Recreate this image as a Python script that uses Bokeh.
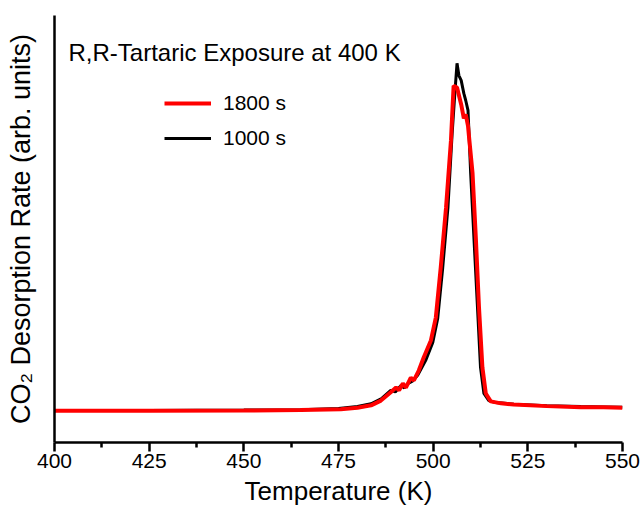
from bokeh.plotting import figure
from bokeh.models import Legend, LegendItem, FixedTicker, Label
from bokeh.embed import file_html
from bokeh.resources import INLINE

# ---- data ----
temp_1800 = [400, 425, 450, 465, 475.6, 480, 483.6, 486.2, 488.8, 490.2, 491.0, 492.0,
             492.8, 494.1, 494.9, 496.2, 497.5, 499.4, 500.7, 502.0, 503.4, 504.7,
             505.4, 506.3, 507.4, 508.1, 508.6, 509.2, 509.5, 510.4, 511.3, 512.1,
             513.0, 513.9, 515.2, 517.9, 521.3, 530, 539.0, 545, 550]
rate_1800 = [0.000, 0.000, 0.001, 0.002, 0.004, 0.008, 0.014, 0.026, 0.047, 0.059, 0.052, 0.069,
             0.059, 0.084, 0.077, 0.102, 0.135, 0.178, 0.236, 0.363, 0.514, 0.684,
             0.822, 0.818, 0.775, 0.740, 0.750, 0.721, 0.690, 0.601, 0.431, 0.262,
             0.110, 0.044, 0.024, 0.019, 0.016, 0.012, 0.009, 0.009, 0.008]

temp_1000 = [400, 425, 450, 465, 475, 480, 483.6, 486.5, 488.8, 490.0, 491.5, 492.4,
             493.3, 494.5, 495.9, 498.0, 499.9, 501.2, 502.5, 503.9, 505.0, 505.7,
             506.3, 506.8, 507.4, 508.1, 508.6, 509.2, 509.4, 509.9, 510.8, 511.7,
             512.5, 513.4, 514.7, 516.5, 521.3, 530, 539.0, 545, 550]
rate_1000 = [0.001, 0.001, 0.002, 0.003, 0.006, 0.011, 0.018, 0.032, 0.052, 0.048, 0.064, 0.058,
             0.069, 0.075, 0.090, 0.127, 0.173, 0.234, 0.360, 0.514, 0.700, 0.800,
             0.879, 0.848, 0.836, 0.803, 0.785, 0.760, 0.716, 0.601, 0.431, 0.262,
             0.110, 0.044, 0.026, 0.021, 0.017, 0.013, 0.011, 0.010, 0.009]

x_ticks = [400, 425, 450, 475, 500, 525, 550]
x_minor_ticks = [412.5, 437.5, 462.5, 487.5, 512.5, 537.5]
series_labels = ["1800 s", "1000 s"]
title_text = "R,R-Tartaric Exposure at 400 K"

FONT = "Liberation Sans"

p = figure(width=640, height=512, x_range=(400, 550), y_range=(-0.08, 1.0),
           output_backend="svg", toolbar_location=None,
           min_border_left=54, min_border_right=18, min_border_top=15, min_border_bottom=70)
p.outline_line_color = None
p.grid.visible = False
p.background_fill_color = "white"
p.border_fill_color = "white"

r_blk = p.line(temp_1000, rate_1000, line_color="black", line_width=3)
r_red = p.line(temp_1800, rate_1800, line_color="#ff0000", line_width=4)

# x axis
xa = p.xaxis[0]
xa.ticker = FixedTicker(ticks=x_ticks, minor_ticks=x_minor_ticks)
xa.axis_line_width = 2.5
xa.axis_line_color = "black"
xa.major_tick_line_width = 2.5
xa.major_tick_out = 9
xa.major_tick_in = 0
xa.minor_tick_line_width = 2.5
xa.minor_tick_out = 5
xa.minor_tick_in = 0
xa.major_label_text_font = FONT
xa.major_label_text_font_size = "21px"
xa.major_label_text_color = "black"
xa.major_label_standoff = 2
xa.axis_label = "Temperature (K)"
xa.axis_label_text_font = FONT
xa.axis_label_text_font_size = "26px"
xa.axis_label_text_font_style = "normal"
xa.axis_label_text_color = "black"
xa.axis_label_standoff = 5

# y axis
ya = p.yaxis[0]
ya.ticker = FixedTicker(ticks=[])
ya.axis_line_width = 2.5
ya.axis_line_color = "black"
ya.major_tick_line_color = None
ya.minor_tick_line_color = None
ya.major_tick_out = 0
ya.major_label_standoff = 0
ya.axis_label = "CO\u2082 Desorption Rate (arb. units)"
ya.axis_label_text_font = FONT
ya.axis_label_text_font_size = "27px"
ya.axis_label_text_font_style = "normal"
ya.axis_label_text_color = "black"
ya.axis_label_standoff = 19

# title inside plot
p.add_layout(Label(x=403.7, y=0.906, text=title_text, text_font=FONT,
                   text_font_size="24px", text_color="black", text_baseline="alphabetic"))

legend = Legend(items=[LegendItem(label=series_labels[0], renderers=[r_red]),
                       LegendItem(label=series_labels[1], renderers=[r_blk])],
                location=(110, 289), border_line_color=None, background_fill_alpha=0,
                padding=0, margin=0, spacing=5, glyph_width=47, glyph_height=30,
                label_height=30, label_standoff=12, label_text_font=FONT,
                label_text_font_size="21px", label_text_color="black")
p.add_layout(legend)

open("out.html", "w").write(file_html(p, INLINE))
